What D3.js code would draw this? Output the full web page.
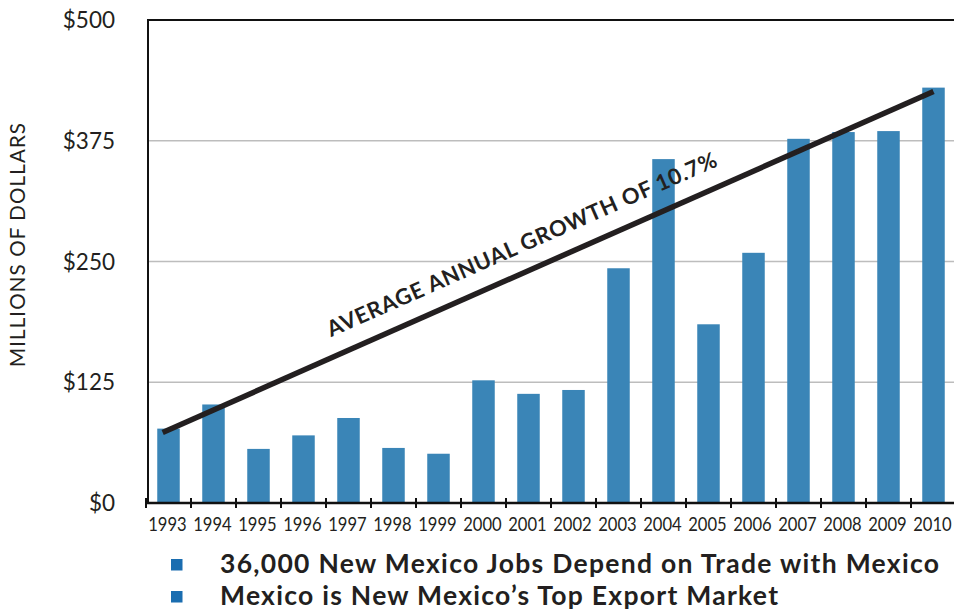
<!DOCTYPE html>
<html lang="en">
<head>
  <meta charset="UTF-8">
  <title>Exports to Mexico</title>
  <style>
    body {
      margin: 0;
      background: #fff;
      overflow: hidden;
    }
    svg text {
      font-family: Lato, "Open Sans", sans-serif;
      fill: #231f20;
    }
    .grid line {
      stroke: #bdbdbd;
      stroke-width: 1.5;
    }
  </style>
</head>
<body>
  <svg></svg>
</body>
<script src="https://cdn.jsdelivr.net/npm/d3@7"></script>
<script>
  var years = [1993, 1994, 1995, 1996, 1997, 1998, 1999, 2000, 2001, 2002, 2003, 2004, 2005, 2006, 2007, 2008, 2009, 2010]
  var exportValues = [77, 102, 56, 70, 88, 57, 51, 127, 113, 117, 243, 356, 185, 259, 377, 384, 385, 430]
  var yTicks = [0, 125, 250, 375, 500]
  // straight trend line, end points
  var trendYears = [1992.87, 2010.0]
  var trendValues = [73, 426]
  var trendLabel = 'AVERAGE ANNUAL GROWTH OF 10.7%'
  var legendItems = ['36,000 New Mexico Jobs Depend on Trade with Mexico', 'Mexico is New Mexico\u2019s Top Export Market']
  var legendWidths = [719, 558]

  var width = 954
  var height = 614
  var plotLeft = 148, plotTop = 20, plotBottom = 503

  var svg = d3.select('svg')
    .attr('width', width)
    .attr('height', height)

  var x = d3.scaleBand()
    .domain(years)
    .range([146, 956])
    .paddingInner(0.5)
    .paddingOuter(0.25)

  var y = d3.scaleLinear()
    .domain([0, 500])
    .range([plotBottom, plotTop])

  var step = x.step()
  var bw = x.bandwidth()

  // gridlines
  svg.append('g')
    .attr('class', 'grid')
    .selectAll('line')
    .data(yTicks.filter(d => d > 0 && d < 500))
    .enter()
    .append('line')
    .attr('x1', plotLeft)
    .attr('x2', width)
    .attr('y1', d => y(d))
    .attr('y2', d => y(d))

  // bars
  svg.selectAll('rect.bar')
    .data(years)
    .enter()
    .append('rect')
    .attr('class', 'bar')
    .attr('x', d => x(d))
    .attr('width', bw)
    .attr('y', (d, i) => y(exportValues[i]))
    .attr('height', (d, i) => y(0) - y(exportValues[i]))
    .attr('fill', '#3a85b7')

  // frame: top and left
  svg.append('line')
    .attr('x1', plotLeft - 1).attr('x2', width)
    .attr('y1', plotTop).attr('y2', plotTop)
    .attr('stroke', '#111').attr('stroke-width', 2)
  svg.append('line')
    .attr('x1', plotLeft).attr('x2', plotLeft)
    .attr('y1', plotTop).attr('y2', plotBottom)
    .attr('stroke', '#111').attr('stroke-width', 2)

  // y labels
  svg.append('g')
    .selectAll('text')
    .data(yTicks)
    .enter()
    .append('text')
    .attr('x', 115)
    .attr('y', d => y(d))
    .attr('dy', '0.36em')
    .attr('text-anchor', 'end')
    .attr('font-size', 22.5)
    .text(d => '$' + d)

  svg.append('text')
    .attr('transform', 'translate(25,245) rotate(-90)')
    .attr('text-anchor', 'middle')
    .attr('font-size', 20.5)
    .attr('textLength', 244)
    .attr('lengthAdjust', 'spacing')
    .text('MILLIONS OF DOLLARS')

  // x axis with ticks at category boundaries
  var xAxis = svg.append('g')
  xAxis.append('line')
    .attr('x1', plotLeft - 1).attr('x2', width)
    .attr('y1', plotBottom).attr('y2', plotBottom)
    .attr('stroke', '#111').attr('stroke-width', 2.5)
  xAxis.selectAll('line.tick')
    .data(years)
    .enter()
    .append('line')
    .attr('class', 'tick')
    .attr('x1', d => x(d) - step * 0.25)
    .attr('x2', d => x(d) - step * 0.25)
    .attr('y1', plotBottom - 5)
    .attr('y2', plotBottom + 5)
    .attr('stroke', '#111').attr('stroke-width', 2)
  xAxis.selectAll('text')
    .data(years)
    .enter()
    .append('text')
    .attr('x', d => x(d) + bw / 2 - 1)
    .attr('y', 531)
    .attr('text-anchor', 'middle')
    .attr('font-size', 19)
    .attr('fill', '#333')
    .attr('textLength', 38.5)
    .attr('lengthAdjust', 'spacingAndGlyphs')
    .text(d => d)

  // trend line
  var xYear = d3.scaleLinear()
    .domain([years[0], years[years.length - 1]])
    .range([x(years[0]) + bw / 2, x(years[years.length - 1]) + bw / 2])

  var p0 = [xYear(trendYears[0]), y(trendValues[0])]
  var p1 = [xYear(trendYears[1]), y(trendValues[1])]

  svg.append('line')
    .attr('x1', p0[0]).attr('y1', p0[1])
    .attr('x2', p1[0]).attr('y2', p1[1])
    .attr('stroke', '#231f20')
    .attr('stroke-width', 5.5)

  var angle = Math.atan2(p1[1] - p0[1], p1[0] - p0[0]) * 180 / Math.PI
  var t = (532.5 - p0[0]) / (p1[0] - p0[0])
  var mid = [p0[0] + t * (p1[0] - p0[0]), p0[1] + t * (p1[1] - p0[1])]

  svg.append('text')
    .attr('transform', `translate(${mid[0]},${mid[1]}) rotate(${angle})`)
    .attr('y', -19)
    .attr('text-anchor', 'middle')
    .attr('font-size', 22)
    .attr('font-weight', 'bold')
    .attr('textLength', 424)
    .attr('lengthAdjust', 'spacing')
    .text(trendLabel)

  // legend
  var legend = svg.append('g')
    .selectAll('g')
    .data(legendItems)
    .enter()
    .append('g')
    .attr('transform', (d, i) => `translate(0,${573 + i * 32})`)

  legend.append('rect')
    .attr('x', 171)
    .attr('y', -14)
    .attr('width', 11.5)
    .attr('height', 11.5)
    .attr('fill', '#1a6db0')

  legend.append('text')
    .attr('x', 220)
    .attr('font-size', 26.5)
    .attr('font-weight', 'bold')
    .attr('textLength', (d, i) => legendWidths[i])
    .attr('lengthAdjust', 'spacing')
    .text(d => d)
</script>
</html>
